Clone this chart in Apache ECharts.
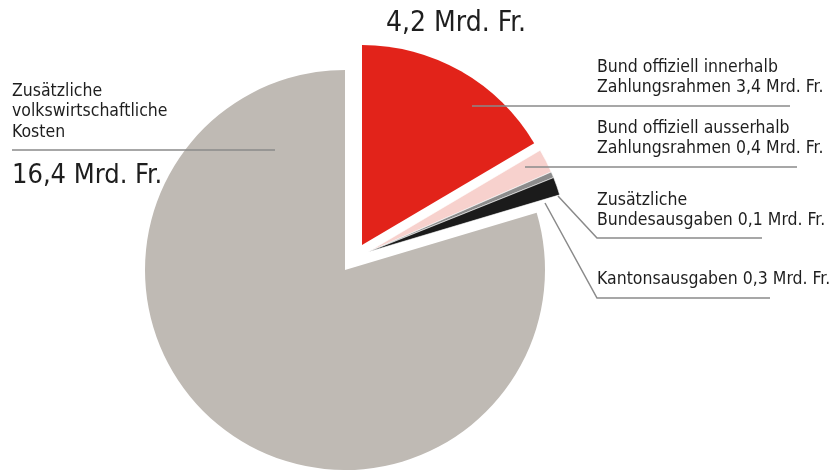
<!DOCTYPE html>
<html>
<head>
<meta charset="utf-8">
<script src="https://cdn.jsdelivr.net/npm/echarts@6/dist/echarts.min.js"></script>
<style>
  html, body { margin: 0; padding: 0; background: #fff; }
  #chart { width: 837px; height: 470px; }
</style>
</head>
<body>
<div id="chart"></div>
<script>
const categories = [
  'Bund offiziell innerhalb\nZahlungsrahmen',
  'Bund offiziell ausserhalb\nZahlungsrahmen',
  'Zusätzliche\nBundesausgaben',
  'Kantonsausgaben',
  'Zusätzliche\nvolkswirtschaftliche\nKosten'
]
const values = [3.4, 0.4, 0.1, 0.3, 16.4]
const sliceColors = ['#e2231a', '#f7d1cd', '#8c8c8c', '#1b1b1b', '#bfbab4']

// the pie is cut into pieces that are pulled apart
const pieceOf = [0, 1, 1, 1, 2]
const pieceCenters = [[362, 245], [368, 252], [345, 270]]

// where each label sits and how its leader line runs
const labelPlaces = [
  { x: 597, y: 57, line: [[472, 106], [790, 106]] },
  { x: 597, y: 118, line: [[525, 167], [797, 167]] },
  { x: 597, y: 190, line: [[558, 196], [597, 238], [762, 238]] },
  { x: 597, y: 269, line: [[545, 203], [597, 298], [770, 298]] },
  { x: 12, y: 81, line: [[275, 150], [12, 150]] }
]

const FONT = "'Liberation Sans Narrow', 'DejaVu Sans Condensed', sans-serif"
const fmt = v => v.toFixed(1).replace('.', ',') + ' Mrd. Fr.'

const chart = echarts.init(document.getElementById('chart'))

function pieceSeries(piece) {
  return {
    type: 'pie',
    z: 2,
    center: pieceCenters[piece],
    radius: 200,
    startAngle: 90,
    clockwise: true,
    silent: true,
    animation: false,
    data: values.map((v, i) => {
      const mine = pieceOf[i] === piece
      return {
        name: categories[i],
        value: v,
        itemStyle: {
          color: mine ? sliceColors[i] : 'rgba(0,0,0,0)',
          borderColor: '#fff',
          borderWidth: mine && piece === 1 ? 0.6 : 0
        }
      }
    }),
    label: { show: false },
    labelLine: { show: false }
  }
}

// invisible copy on top that only carries the labels and leader lines
const labelSeries = {
  type: 'pie',
  z: 5,
  center: pieceCenters[2],
  radius: 200,
  startAngle: 90,
  silent: true,
  animation: false,
  avoidLabelOverlap: false,
  data: values.map((v, i) => ({
    name: categories[i],
    value: v,
    itemStyle: { color: 'rgba(0,0,0,0)', borderWidth: 0 }
  })),
  label: {
    show: true,
    position: 'outside',
    formatter: p => p.dataIndex === 4 ? p.name : p.name + ' ' + fmt(p.value),
    color: '#1e1e1e',
    fontFamily: FONT,
    fontSize: 17.5,
    lineHeight: 20.5
  },
  labelLine: { show: true, lineStyle: { color: '#8a8a8a', width: 1.5 } },
  labelLayout: p => {
    const place = labelPlaces[p.dataIndex]
    return {
      x: place.x,
      y: place.y,
      align: 'left',
      verticalAlign: 'top',
      labelLinePoints: place.line
    }
  }
}

const exploded = values.slice(0, 4).reduce((a, b) => a + b, 0)

chart.setOption({
  backgroundColor: '#fff',
  series: [pieceSeries(2), pieceSeries(0), pieceSeries(1), labelSeries],
  graphic: [
    {
      type: 'text',
      x: 456,
      y: 10,
      style: { text: fmt(exploded), align: 'center', verticalAlign: 'top', font: '28px ' + FONT, fill: '#1e1e1e' }
    },
    {
      type: 'text',
      x: 12,
      y: 162,
      style: { text: fmt(values[4]), align: 'left', verticalAlign: 'top', font: '27px ' + FONT, fill: '#1e1e1e' }
    }
  ]
})

window.addEventListener('resize', () => chart.resize())
</script>
</body>
</html>
